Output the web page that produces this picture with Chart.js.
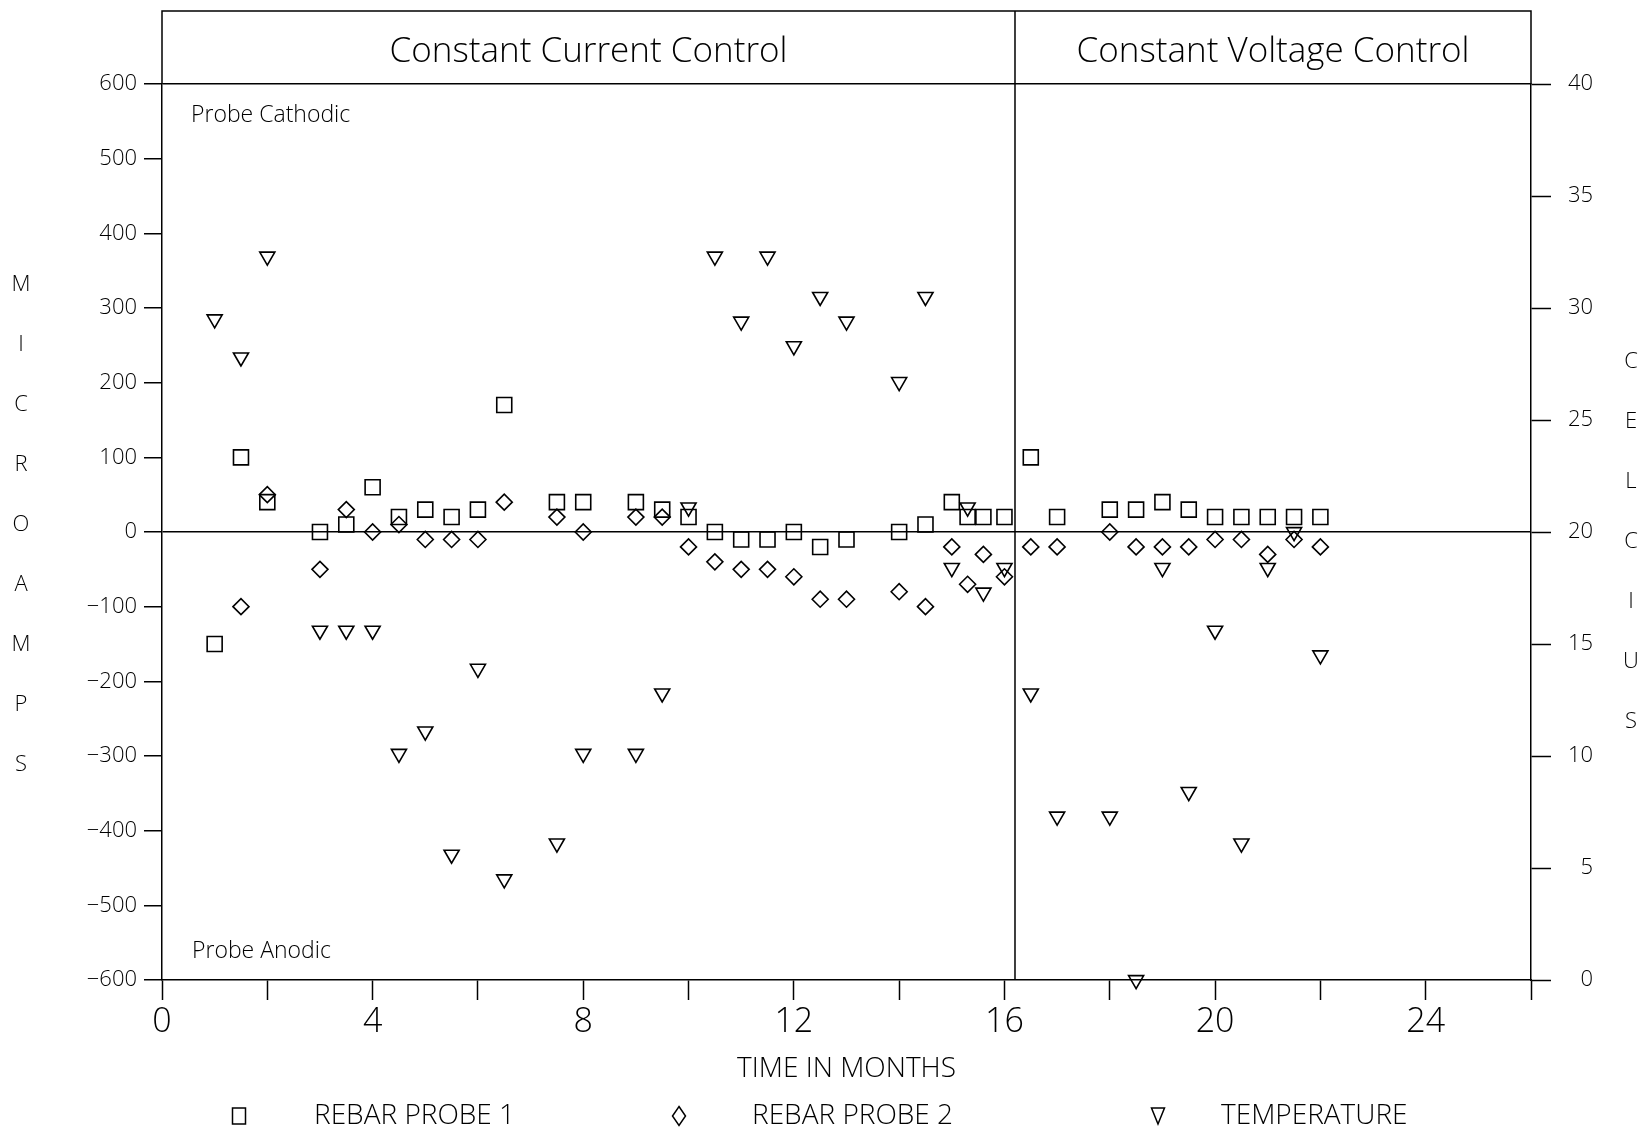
<!DOCTYPE html>
<html>
<head>
<meta charset="utf-8">
<script src="https://cdn.jsdelivr.net/npm/chart.js@4.4.0/dist/chart.umd.min.js"></script>
<style>
html, body { margin: 0; padding: 0; background: #fff; }
canvas { display: block; }
</style>
</head>
<body>
<canvas id="chartId" width="1643" height="1130"></canvas>
<script>
// time axis, one reading per half month (a few extra near the switch-over)
var months = [1, 1.5, 2, 3, 3.5, 4, 4.5, 5, 5.5, 6, 6.5, 7.5, 8, 9, 9.5, 10, 10.5, 11, 11.5, 12, 12.5, 13,
              14, 14.5, 15, 15.3, 15.6, 16, 16.5, 17, 18, 18.5, 19, 19.5, 20, 20.5, 21, 21.5, 22]
var probe1 = [-150, 100, 40, 0, 10, 60, 20, 30, 20, 30, 170, 40, 40, 40, 30, 20, 0, -10, -10, 0, -20, -10,
              0, 10, 40, 20, 20, 20, 100, 20, 30, 30, 40, 30, 20, 20, 20, 20, 20]
var probe2 = [null, -100, 50, -50, 30, 0, 10, -10, -10, -10, 40, 20, 0, 20, 20, -20, -40, -50, -50, -60, -90, -90,
              -80, -100, -20, -70, -30, -60, -20, -20, 0, -20, -20, -20, -10, -10, -30, -10, -20]
var temperature = [29.5, 27.8, 32.3, 15.6, 15.6, 15.6, 10.1, 11.1, 5.6, 13.9, 4.5, 6.1, 10.1, 10.1, 12.8, 21.1, 32.3, 29.4, 32.3, 28.3, 30.5, 29.4,
                   26.7, 30.5, 18.4, 21.1, 17.3, 18.4, 12.8, 7.3, 7.3, 0, 18.4, 8.4, 15.6, 6.1, 18.4, 20.0, 14.5]

var phaseChange = 16.2
var phaseLabels = ['Constant Current Control', 'Constant Voltage Control']
var seriesLabels = ['REBAR PROBE 1', 'REBAR PROBE 2', 'TEMPERATURE']
var cornerNotes = ['Probe Cathodic', 'Probe Anodic']
var xTitle = 'TIME IN MONTHS'
var yTitle = 'MICROAMPS'
var y2Title = 'CELCIUS'

var fontFamily = "'Open Sans', 'DejaVu Sans', sans-serif"
Chart.defaults.font.family = fontFamily
Chart.defaults.font.weight = '300'
Chart.defaults.color = '#000'

function pts(ys) {
    var out = []
    months.forEach(function (m, i) {
        if (ys[i] !== null) out.push({ x: m, y: ys[i] })
    })
    return out
}

function glyph(ctx, style, x, y, w, h) {
    ctx.beginPath()
    if (style === 'rect') {
        ctx.rect(x - w / 2, y - h / 2, w, h)
    } else if (style === 'rectRot') {
        ctx.moveTo(x, y - h / 2); ctx.lineTo(x + w / 2, y); ctx.lineTo(x, y + h / 2); ctx.lineTo(x - w / 2, y)
        ctx.closePath()
    } else {
        ctx.moveTo(x - w / 2, y - h / 2); ctx.lineTo(x + w / 2, y - h / 2); ctx.lineTo(x, y + h / 2)
        ctx.closePath()
    }
    ctx.stroke()
}

// title box, phase divider, side titles, corner notes and legend row
var frame = {
    id: 'frame',
    afterDraw: function (chart) {
        var ctx = chart.ctx, a = chart.chartArea
        var split = chart.scales.x.getPixelForValue(phaseChange)
        var boxTop = 11
        ctx.save()
        ctx.strokeStyle = '#000'
        ctx.lineWidth = 1.5
        ctx.beginPath()
        ctx.moveTo(a.left, a.top); ctx.lineTo(a.left, boxTop); ctx.lineTo(a.right, boxTop); ctx.lineTo(a.right, a.top)
        ctx.moveTo(split, boxTop); ctx.lineTo(split, a.bottom)
        ctx.stroke()

        ctx.fillStyle = '#000'
        ctx.textAlign = 'center'
        ctx.textBaseline = 'middle'
        ctx.font = '300 35px ' + fontFamily
        ctx.fillText(phaseLabels[0], (a.left + split) / 2, 52)
        ctx.fillText(phaseLabels[1], (split + a.right) / 2, 52)

        ctx.font = '300 22px ' + fontFamily
        yTitle.split('').forEach(function (c, i) {
            ctx.fillText(c, 21, 525 + (i - (yTitle.length - 1) / 2) * 60)
        })
        y2Title.split('').forEach(function (c, i) {
            ctx.fillText(c, 1631, 542 + (i - (y2Title.length - 1) / 2) * 60)
        })

        ctx.textAlign = 'left'
        ctx.font = '300 23px ' + fontFamily
        ctx.fillText(cornerNotes[0], a.left + 29, a.top + 31)
        ctx.fillText(cornerNotes[1], a.left + 30, a.bottom - 29)

        // legend
        var marks = [239, 679, 1158], texts = [314, 752, 1221], ly = 1116
        ctx.font = '300 28px ' + fontFamily
        ctx.lineWidth = 1.5
        chart.data.datasets.forEach(function (ds, i) {
            glyph(ctx, ds.pointStyle, marks[i], ly, 13, ds.pointStyle === 'rectRot' ? 19 : 16)
            ctx.fillText(ds.label, texts[i], ly)
        })
        ctx.restore()
    }
}

var common = {
    showLine: false,
    borderColor: '#000',
    backgroundColor: 'rgba(0,0,0,0)',
    pointBorderColor: '#000',
    pointBackgroundColor: 'rgba(0,0,0,0)',
    pointBorderWidth: 1.6,
    clip: false
}

var chrt = document.getElementById('chartId').getContext('2d')
var chart = new Chart(chrt, {
    type: 'scatter',
    data: {
        datasets: [
            Object.assign({ label: seriesLabels[0], data: pts(probe1), pointStyle: 'rect', pointRadius: 10.6, yAxisID: 'y' }, common),
            Object.assign({ label: seriesLabels[1], data: pts(probe2), pointStyle: 'rectRot', pointRadius: 8, yAxisID: 'y' }, common),
            Object.assign({ label: seriesLabels[2], data: pts(temperature), pointStyle: 'triangle', pointRotation: 180, pointRadius: 8.7, yAxisID: 'y2' }, common)
        ]
    },
    options: {
        responsive: false,
        animation: false,
        layout: { padding: { top: 84, left: 0, right: 50, bottom: 0 } },
        plugins: {
            legend: { display: false },
            tooltip: { enabled: false }
        },
        scales: {
            x: {
                type: 'linear',
                min: 0,
                max: 26,
                ticks: {
                    stepSize: 2,
                    autoSkip: false,
                    maxRotation: 0,
                    padding: 2,
                    font: { size: 34, weight: '300' },
                    callback: function (v) { return v % 4 === 0 ? v : '' }
                },
                grid: { drawOnChartArea: false, tickLength: 20, tickColor: '#000', tickWidth: 1.5 },
                border: { display: true, color: '#000', width: 1.5 },
                title: { display: true, text: xTitle, font: { size: 28, weight: '300' }, padding: { top: 0, bottom: 44 } },
                afterFit: function (s) { s.height = 150 }
            },
            y: {
                position: 'left',
                min: -600,
                max: 600,
                ticks: {
                    stepSize: 100,
                    padding: 7,
                    font: { size: 22, weight: '300' },
                    callback: function (v) { return String(v).replace('-', '\u2212') }
                },
                grid: {
                    color: function (c) { return (c.tick && (c.tick.value === 0 || c.tick.value === 600)) ? '#000' : 'rgba(0,0,0,0)' },
                    lineWidth: 1.5,
                    tickLength: 18,
                    tickColor: '#000',
                    tickWidth: 1.5
                },
                border: { display: true, color: '#000', width: 1.5 },
                afterFit: function (s) { s.width = 162 }
            },
            y2: {
                position: 'right',
                min: 0,
                max: 40,
                ticks: { stepSize: 5, padding: 16, crossAlign: 'far', font: { size: 22, weight: '300' } },
                grid: { drawOnChartArea: false, tickLength: 20, tickColor: '#000', tickWidth: 1.5 },
                border: { display: true, color: '#000', width: 1.5 },
                afterFit: function (s) { s.width = 62 }
            }
        }
    },
    plugins: [frame]
})
</script>
</body>
</html>
